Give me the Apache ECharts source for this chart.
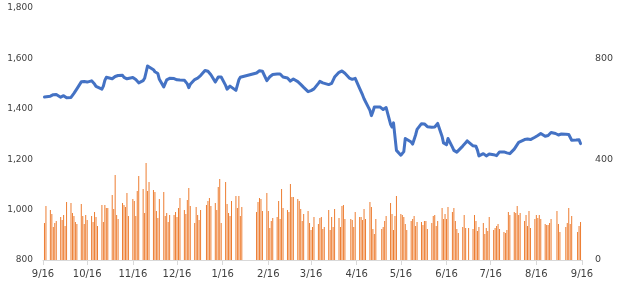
<!DOCTYPE html>
<html><head><meta charset="utf-8">
<script src="https://cdn.jsdelivr.net/npm/echarts@6/dist/echarts.min.js"></script>
<style>html,body{margin:0;padding:0;background:#fff}#c{width:622px;height:305px}</style>
</head><body><div id="c"></div>
<script>
// Axis range (calendar days)
const axisStart = '2015-09-16';
const axisEnd = '2016-09-16';

// Trading dates
const dates = [
 '2015-09-17','2015-09-18',
 '2015-09-21','2015-09-22','2015-09-23','2015-09-24','2015-09-25',
 '2015-09-28','2015-09-29','2015-09-30','2015-10-01','2015-10-02',
 '2015-10-05','2015-10-06','2015-10-07','2015-10-08','2015-10-09',
 '2015-10-12','2015-10-13','2015-10-14','2015-10-15','2015-10-16',
 '2015-10-19','2015-10-20','2015-10-21','2015-10-22','2015-10-23',
 '2015-10-26','2015-10-27','2015-10-28','2015-10-29','2015-10-30',
 '2015-11-02','2015-11-03','2015-11-04','2015-11-05','2015-11-06',
 '2015-11-09','2015-11-10','2015-11-11','2015-11-12','2015-11-13',
 '2015-11-16','2015-11-17','2015-11-18','2015-11-19','2015-11-20',
 '2015-11-23','2015-11-24','2015-11-25','2015-11-26','2015-11-27',
 '2015-11-30','2015-12-01','2015-12-02','2015-12-03','2015-12-04',
 '2015-12-07','2015-12-08','2015-12-09','2015-12-10','2015-12-11',
 '2015-12-14','2015-12-15','2015-12-16','2015-12-17','2015-12-18',
 '2015-12-21','2015-12-22','2015-12-23','2015-12-24','2015-12-25',
 '2015-12-28','2015-12-29','2015-12-30','2015-12-31','2016-01-01',
 '2016-01-04','2016-01-05','2016-01-06','2016-01-07','2016-01-08',
 '2016-01-11','2016-01-12','2016-01-13','2016-01-14','2016-01-15',
 '2016-01-18','2016-01-19','2016-01-20','2016-01-21','2016-01-22',
 '2016-01-25','2016-01-26','2016-01-27','2016-01-28','2016-01-29',
 '2016-02-08','2016-02-09','2016-02-10','2016-02-11','2016-02-12',
 '2016-02-15','2016-02-16','2016-02-17','2016-02-18','2016-02-19',
 '2016-02-22','2016-02-23','2016-02-24','2016-02-25','2016-02-26',
 '2016-02-29','2016-03-01','2016-03-02','2016-03-03','2016-03-04',
 '2016-03-07','2016-03-08','2016-03-09','2016-03-10','2016-03-11',
 '2016-03-14','2016-03-15','2016-03-16','2016-03-17','2016-03-18',
 '2016-03-21','2016-03-22','2016-03-23','2016-03-24','2016-03-25',
 '2016-03-28','2016-03-29','2016-03-30','2016-03-31','2016-04-01',
 '2016-04-04','2016-04-05','2016-04-06','2016-04-07','2016-04-08',
 '2016-04-11','2016-04-12','2016-04-13','2016-04-14','2016-04-15',
 '2016-04-18','2016-04-19','2016-04-20','2016-04-21','2016-04-22',
 '2016-04-25','2016-04-26','2016-04-27','2016-04-28','2016-04-29',
 '2016-05-02','2016-05-03','2016-05-04','2016-05-05','2016-05-06',
 '2016-05-09','2016-05-10','2016-05-11','2016-05-12','2016-05-13',
 '2016-05-16','2016-05-17','2016-05-18','2016-05-19','2016-05-20',
 '2016-05-23','2016-05-24','2016-05-25','2016-05-26','2016-05-27',
 '2016-05-30','2016-05-31','2016-06-01','2016-06-02','2016-06-03',
 '2016-06-06','2016-06-07','2016-06-08','2016-06-09','2016-06-10',
 '2016-06-13','2016-06-14','2016-06-15','2016-06-16','2016-06-17',
 '2016-06-20','2016-06-21','2016-06-22','2016-06-23','2016-06-24',
 '2016-06-27','2016-06-28','2016-06-29','2016-06-30','2016-07-01',
 '2016-07-04','2016-07-05','2016-07-06','2016-07-07','2016-07-08',
 '2016-07-11','2016-07-12','2016-07-13','2016-07-14','2016-07-15',
 '2016-07-18','2016-07-19','2016-07-20','2016-07-21','2016-07-22',
 '2016-07-25','2016-07-26','2016-07-27','2016-07-28','2016-07-29',
 '2016-08-01','2016-08-02','2016-08-03','2016-08-04','2016-08-05',
 '2016-08-08','2016-08-09','2016-08-10','2016-08-11','2016-08-12',
 '2016-08-15','2016-08-16','2016-08-17','2016-08-18','2016-08-19',
 '2016-08-22','2016-08-23','2016-08-24','2016-08-25','2016-08-26',
 '2016-08-29','2016-08-30','2016-08-31','2016-09-01','2016-09-02',
 '2016-09-05','2016-09-06','2016-09-07','2016-09-08','2016-09-09',
 '2016-09-12','2016-09-13','2016-09-14','2016-09-15'
];

// Line values (left axis)
const price = [
 1447,1452,
 1450,1451,1456,1462,1457,
 1446,1449,1452,1448,1444,
 1445,1453,1461,1470,1479,
 1507,1511,1508,1505,1506,
 1511,1506,1498,1489,1486,
 1478,1490,1513,1525,1530,
 1519,1524,1528,1531,1532,
 1533,1525,1519,1519,1524,
 1524,1522,1516,1509,1503,
 1512,1521,1545,1570,1569,
 1555,1547,1541,1540,1517,
 1487,1490,1515,1521,1521,
 1520,1518,1515,1514,1514,
 1513,1512,1499,1484,1497,
 1516,1519,1522,1527,1532,
 1552,1556,1549,1542,1535,
 1506,1516,1526,1531,1526,
 1493,1478,1482,1490,1497,
 1473,1494,1515,1525,1529,
 1542,1546,1551,1552,1549,
 1512,1514,1527,1532,1536,
 1538,1538,1538,1538,1526,
 1522,1518,1510,1506,1518,
 1508,1502,1497,1491,1485,
 1468,1469,1472,1475,1479,
 1501,1509,1506,1503,1501,
 1496,1497,1501,1505,1526,
 1545,1547,1550,1552,1541,
 1522,1518,1517,1519,1521,
 1481,1474,1455,1440,1434,
 1394,1373,1388,1407,1410,
 1407,1400,1397,1402,1405,
 1339,1328,1344,1345,1235,
 1216,1215,1230,1282,1283,
 1268,1260,1265,1296,1318,
 1341,1340,1340,1335,1329,
 1327,1327,1328,1335,1342,
 1290,1264,1259,1257,1282,
 1248,1235,1230,1228,1229,
 1252,1258,1265,1273,1266,
 1253,1252,1251,1236,1213,
 1222,1215,1213,1217,1221,
 1218,1216,1214,1220,1229,
 1229,1227,1225,1224,1222,
 1240,1249,1258,1267,1274,
 1278,1279,1280,1279,1278,
 1287,1291,1294,1298,1302,
 1291,1288,1294,1301,1306,
 1302,1298,1296,1298,1300,
 1299,1299,1298,1292,1275,
 1276,1277,1277,1262
];

// Bar values (right axis)
const volume = [
 147,214,
 198,183,131,147,155,
 171,159,179,135,230,
 226,187,175,151,143,
 222,175,143,179,159,
 175,151,190,171,135,
 218,151,218,206,206,
 258,202,337,179,163,
 226,218,210,266,175,
 242,234,175,274,333,
 282,187,385,274,310,
 278,270,194,167,242,
 270,175,187,151,179,
 179,190,171,206,246,
 198,183,238,286,214,
 147,210,179,159,198,
 null,218,234,246,214,
 226,198,290,321,147,
 310,222,187,175,234,
 254,206,254,175,210,
 190,230,246,242,194,
 266,194,127,155,167,
 171,234,163,282,206,
 198,190,302,250,250,
 242,234,202,155,183,
 194,147,119,131,171,
 143,167,171,123,131,
 198,119,171,131,202,
 167,131,214,218,163,
 null,163,159,131,190,
 171,171,159,202,163,
 230,210,123,103,163,
 null,123,131,155,175,
 226,183,119,175,254,
 183,179,171,143,119,
 155,163,175,135,151,
 151,139,155,155,123,
 147,175,179,135,155,
 206,163,183,163,210,
 190,206,155,123,107,
 131,179,127,null,127,
 123,179,155,115,131,
 147,103,127,115,171,
 119,127,135,143,123,
 111,107,119,190,179,
 190,187,214,179,187,
 155,179,135,194,127,
 163,179,167,179,163,
 143,139,139,147,163,
 null,194,143,111,null,
 131,147,206,143,175,
 null,111,135,151
];

// Axis settings
const leftMin = 800, leftMax = 1800, leftStep = 200;
const rightMin = 0, rightMax = 1000, rightStep = 400;
const rightHiddenLabels = [1000];

// Build calendar categories
const cats = [];
for (let t = Date.parse(axisStart + 'T00:00:00Z'); t <= Date.parse(axisEnd + 'T00:00:00Z'); t += 86400000) {
  cats.push(new Date(t).toISOString().slice(0, 10));
}
const pos = {};
dates.forEach((d, i) => { pos[d] = i; });
const priceData = cats.map(c => (c in pos) ? price[pos[c]] : null);
const volData = cats.map(c => (c in pos) ? volume[pos[c]] : null);

const isTick = (i, v) => v.slice(8, 10) === '16';
const txt = '#3F3F3F';

const chart = echarts.init(document.getElementById('c'), null, {renderer: 'canvas'});
chart.setOption({
  animation: false,
  backgroundColor: '#fff',
  grid: {left: 43, right: 40, top: 8, bottom: 45, containLabel: false},
  xAxis: {
    type: 'category',
    data: cats,
    boundaryGap: false,
    axisLine: {show: true, lineStyle: {color: '#D9D9D9', width: 1}},
    axisTick: {show: true, interval: isTick, length: 5, lineStyle: {color: '#D9D9D9'}},
    axisLabel: {
      interval: isTick,
      margin: 9,
      color: txt,
      fontFamily: 'DejaVu Sans',
      fontSize: 10,
      formatter: v => (+v.slice(5, 7)) + '/' + (+v.slice(8, 10))
    },
    splitLine: {show: false}
  },
  yAxis: [
    {
      type: 'value', position: 'left',
      min: leftMin, max: leftMax, interval: leftStep,
      axisLine: {show: false}, axisTick: {show: false}, splitLine: {show: false},
      axisLabel: {margin: 10, color: txt, fontFamily: 'DejaVu Sans', fontSize: 9,
        formatter: v => v.toLocaleString('en-US')}
    },
    {
      type: 'value', position: 'right',
      min: rightMin, max: rightMax, interval: rightStep,
      axisLine: {show: false}, axisTick: {show: false}, splitLine: {show: false},
      axisLabel: {margin: 13, color: txt, fontFamily: 'DejaVu Sans', fontSize: 9.5,
        formatter: v => rightHiddenLabels.includes(v) ? '' : String(v)}
    }
  ],
  series: [
    {
      type: 'bar', yAxisIndex: 1, data: volData,
      barWidth: 1, itemStyle: {color: '#ED7D31'}, silent: true
    },
    {
      type: 'line', yAxisIndex: 0, data: priceData,
      connectNulls: true, showSymbol: false, symbol: 'none',
      lineStyle: {color: '#4472C4', width: 3, cap: 'round', join: 'round'},
      silent: true
    }
  ]
});
</script>
</body></html>
